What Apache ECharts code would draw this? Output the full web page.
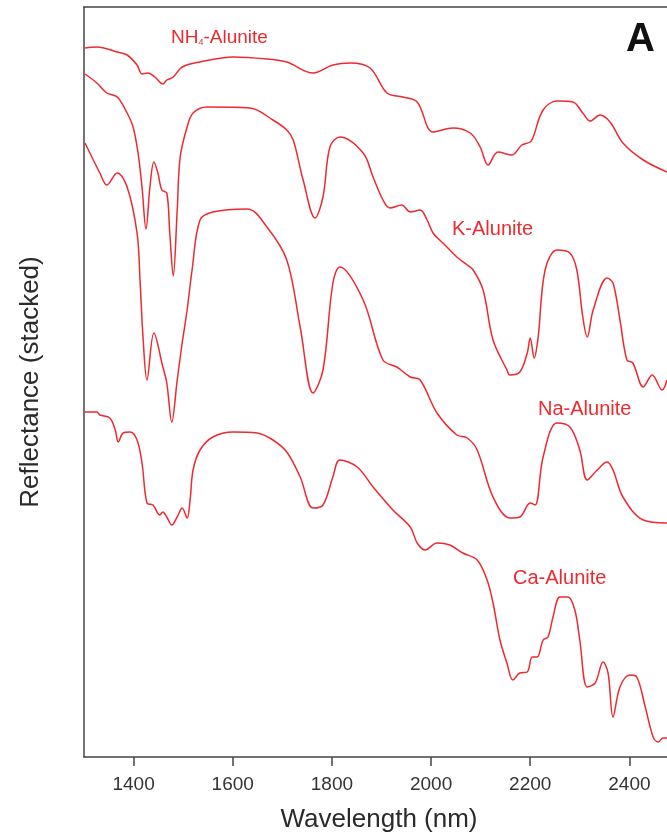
<!DOCTYPE html>
<html>
<head>
<meta charset="utf-8">
<script src="https://cdn.jsdelivr.net/npm/echarts@6/dist/echarts.min.js"></script>
<style>
html,body{margin:0;padding:0;background:#fff;}
#chart{width:667px;height:838px;}
</style>
</head>
<body>
<div id="chart"></div>
<script>
// Wavelength (nm) ticks
const tickValues = [1400, 1600, 1800, 2000, 2200, 2400];

// Series: [wavelength nm, stacked reflectance]
const nh4Alunite = [
  [1302,1.418],[1326,1.420],[1367,1.410],[1387,1.404],[1407,1.384],[1417,1.366],[1429,1.368],
  [1443,1.360],[1459,1.346],[1467,1.354],[1480,1.360],[1498,1.380],[1534,1.390],[1601,1.400],
  [1669,1.396],[1709,1.390],[1762,1.368],[1802,1.384],[1837,1.388],[1877,1.378],[1911,1.328],
  [1943,1.320],[1972,1.310],[2004,1.250],[2044,1.258],[2079,1.248],[2099,1.220],[2115,1.184],
  [2135,1.210],[2163,1.204],[2183,1.224],[2200,1.230],[2206,1.240],[2226,1.294],[2254,1.312],
  [2286,1.310],[2306,1.288],[2321,1.272],[2341,1.284],[2361,1.270],[2387,1.228],[2428,1.194],
  [2476,1.170]
];
const kAlunite = [
  [1302,1.366],[1326,1.348],[1346,1.328],[1367,1.320],[1387,1.288],[1399,1.260],[1409,1.208],
  [1417,1.140],[1425,1.056],[1433,1.140],[1441,1.190],[1449,1.168],[1457,1.134],[1467,1.128],
  [1473,1.048],[1480,0.962],[1488,1.094],[1494,1.200],[1508,1.260],[1520,1.288],[1548,1.300],
  [1635,1.298],[1681,1.274],[1709,1.254],[1722,1.234],[1742,1.154],[1766,1.078],[1782,1.120],
  [1796,1.220],[1816,1.240],[1863,1.208],[1883,1.160],[1903,1.114],[1917,1.098],[1941,1.104],
  [1958,1.090],[1978,1.094],[1992,1.074],[2004,1.048],[2024,1.028],[2052,1.000],[2073,0.984],
  [2085,0.974],[2105,0.934],[2125,0.834],[2153,0.774],[2159,0.764],[2179,0.770],[2194,0.808],
  [2200,0.838],[2208,0.798],[2216,0.840],[2230,0.974],[2254,1.014],[2280,1.008],[2294,0.974],
  [2306,0.880],[2315,0.840],[2327,0.894],[2355,0.958],[2367,0.948],[2381,0.874],[2395,0.794],
  [2407,0.788],[2428,0.740],[2446,0.764],[2466,0.734],[2476,0.754]
];
const naAlunite = [
  [1302,1.228],[1332,1.168],[1346,1.144],[1367,1.168],[1387,1.140],[1407,1.048],[1413,0.954],
  [1419,0.840],[1427,0.754],[1441,0.848],[1459,0.780],[1467,0.748],[1477,0.670],[1488,0.754],
  [1498,0.828],[1508,0.894],[1518,0.974],[1534,1.074],[1560,1.090],[1629,1.096],[1669,1.060],
  [1709,0.994],[1736,0.860],[1762,0.728],[1782,0.774],[1802,0.948],[1816,0.980],[1863,0.914],
  [1903,0.794],[1931,0.780],[1958,0.760],[1978,0.754],[2012,0.688],[2052,0.644],[2073,0.638],
  [2093,0.614],[2125,0.520],[2159,0.478],[2179,0.480],[2200,0.508],[2210,0.504],[2226,0.600],
  [2254,0.668],[2280,0.660],[2300,0.614],[2315,0.554],[2335,0.574],[2355,0.590],[2367,0.574],
  [2387,0.520],[2428,0.474],[2476,0.468]
];
const caAlunite = [
  [1302,0.690],[1326,0.690],[1332,0.684],[1352,0.678],[1363,0.654],[1369,0.630],[1379,0.648],
  [1393,0.650],[1407,0.634],[1417,0.588],[1427,0.508],[1439,0.504],[1453,0.484],[1459,0.490],
  [1467,0.480],[1477,0.464],[1488,0.480],[1498,0.498],[1508,0.478],[1514,0.514],[1520,0.574],
  [1534,0.614],[1560,0.640],[1601,0.650],[1649,0.648],[1681,0.634],[1709,0.610],[1736,0.560],
  [1762,0.498],[1782,0.504],[1802,0.560],[1816,0.594],[1851,0.580],[1883,0.540],[1923,0.494],
  [1958,0.460],[1972,0.428],[1988,0.414],[2012,0.428],[2038,0.424],[2064,0.408],[2093,0.394],
  [2113,0.354],[2125,0.308],[2139,0.234],[2153,0.188],[2165,0.154],[2179,0.168],[2194,0.170],
  [2204,0.200],[2214,0.200],[2226,0.234],[2236,0.240],[2246,0.280],[2260,0.320],[2276,0.320],
  [2290,0.294],[2300,0.234],[2315,0.140],[2331,0.148],[2347,0.190],[2357,0.168],[2367,0.080],
  [2381,0.140],[2401,0.164],[2415,0.160],[2432,0.100],[2448,0.040],[2458,0.030],[2468,0.038],
  [2476,0.038]
];

const RED = '#ec2a30';
const FONT = '"Liberation Sans", Arial, Helvetica, sans-serif';
const chart = echarts.init(document.getElementById('chart'), null, {renderer: 'canvas'});

function lineSeries(name, data) {
  return {
    name: name, type: 'line', data: data, showSymbol: false, smooth: 0.35,
    lineStyle: {color: RED, width: 1.5}, itemStyle: {color: RED}, silent: true,
    clip: true, animation: false
  };
}

chart.setOption({
  animation: false,
  backgroundColor: '#fff',
  grid: {left: 84, top: 7, width: 590, height: 750, show: false,
    containLabel: false, outerBoundsMode: 'none'},
  xAxis: [{
    type: 'value', min: 1300, max: 2490,
    name: 'Wavelength (nm)', nameLocation: 'middle', nameGap: 50,
    nameTextStyle: {fontFamily: FONT, fontSize: 26, color: '#2a2a2a'},
    axisLine: {show: true, lineStyle: {color: '#444', width: 1.5}},
    axisTick: {show: true, inside: false, length: 9, customValues: tickValues,
      lineStyle: {color: '#444', width: 1.5}},
    axisLabel: {show: true, customValues: tickValues, margin: 18,
      formatter: function (v) { return String(v); },
      fontFamily: FONT, fontSize: 19, color: '#333'},
    splitLine: {show: false}
  }, {
    type: 'value', min: 1300, max: 2490, position: 'top',
    axisLine: {show: true, onZero: false, lineStyle: {color: '#444', width: 1.5}},
    axisTick: {show: false}, axisLabel: {show: false}, splitLine: {show: false}
  }],
  yAxis: {
    type: 'value', min: 0, max: 1.5,
    name: 'Reflectance (stacked)', nameLocation: 'middle', nameGap: 40,
    nameTextStyle: {fontFamily: FONT, fontSize: 26, color: '#2a2a2a'},
    axisLine: {show: true, onZero: false, lineStyle: {color: '#444', width: 1.5}},
    axisTick: {show: false}, axisLabel: {show: false}, splitLine: {show: false}
  },
  series: [
    lineSeries('NH4-Alunite', nh4Alunite),
    lineSeries('K-Alunite', kAlunite),
    lineSeries('Na-Alunite', naAlunite),
    lineSeries('Ca-Alunite', caAlunite)
  ],
  graphic: [
    {type: 'text', left: 171, top: 28, style: {
      text: '{m|NH}{s|4}{m|-Alunite}', rich: {
        m: {fontFamily: FONT, fontSize: 19, fill: RED},
        s: {fontFamily: FONT, fontSize: 9, fill: RED, padding: [10, 0, 0, 0]}
      }}},
    {type: 'text', left: 452, top: 219, style: {text: 'K-Alunite', fontFamily: FONT, fontSize: 20, fill: RED}},
    {type: 'text', left: 538, top: 399, style: {text: 'Na-Alunite', fontFamily: FONT, fontSize: 20, fill: RED}},
    {type: 'text', left: 513, top: 568, style: {text: 'Ca-Alunite', fontFamily: FONT, fontSize: 20, fill: RED}},
    {type: 'text', left: 626, top: 20, style: {text: 'A', fontFamily: FONT, fontSize: 40, fontWeight: 'bold', fill: '#111'}}
  ]
});
</script>
</body>
</html>
